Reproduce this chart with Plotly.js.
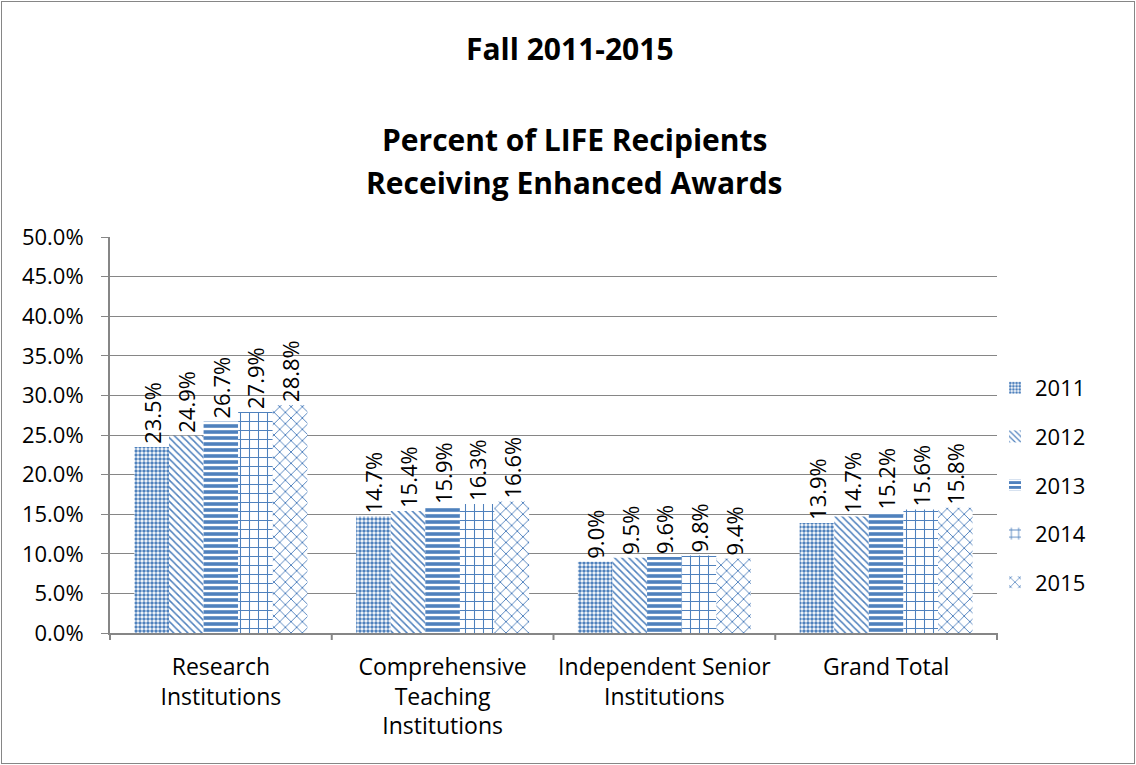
<!DOCTYPE html>
<html>
<head>
<meta charset="utf-8">
<script src="https://cdn.plot.ly/plotly-3.0.1.min.js"></script>
<style>
html,body{margin:0;padding:0;background:#fff;}
#wrap{position:absolute;left:0;top:0;width:1136px;height:765px;}
#frame{position:absolute;left:1px;top:1px;width:1132px;height:761px;border:1px solid #868686;pointer-events:none;}
#chart{position:absolute;left:0;top:0;width:1136px;height:765px;}
</style>
</head>
<body>
<div id="wrap"><div id="chart"></div><div id="frame"></div></div>
<script>
const categories = ["Research<br>Institutions", "Comprehensive<br>Teaching<br>Institutions", "Independent Senior<br>Institutions", "Grand Total"];
const years = ["2011", "2012", "2013", "2014", "2015"];
const v2011 = [23.5, 14.7, 9.0, 13.9];
const v2012 = [24.9, 15.4, 9.5, 14.7];
const v2013 = [26.7, 15.9, 9.6, 15.2];
const v2014 = [27.9, 16.3, 9.8, 15.6];
const v2015 = [28.8, 16.6, 9.4, 15.8];
const series = [v2011, v2012, v2013, v2014, v2015];
const patterns = [
  {shape: ".", size: 4, solidity: 0.6},
  {shape: "\\", size: 5, solidity: 0.3},
  {shape: "-", size: 6, solidity: 0.6},
  {shape: "+", size: 9, solidity: 0.22},
  {shape: "x", size: 8, solidity: 0.22}
];
const blue = "#4F81BD";
const FONT = "'Open Sans', sans-serif";
const FS = 23;

const traces = series.map((vals, i) => ({
  type: "bar",
  name: years[i],
  x: categories,
  y: vals,
  text: vals.map(v => v.toFixed(1) + "%"),
  textposition: "outside",
  textangle: -90,
  constraintext: "none",
  cliponaxis: false,
  textfont: {family: FONT, size: 22, color: "#000"},
  hoverinfo: "skip",
  legendgroup: "g" + i,
  marker: {
    color: blue,
    line: {width: 0},
    pattern: Object.assign({fillmode: "replace", fgcolor: blue, bgcolor: "#ffffff"}, patterns[i])
  }
}));

const plotTop = 237, plotBottom = 633, plotH = plotBottom - plotTop;
const plotLeft = 110, plotRight = 997, plotW = plotRight - plotLeft;
function py(p){ return (plotBottom - p) / plotH; }
function px(p){ return (p - plotLeft) / plotW; }

const layout = {
  width: 1136, height: 765,
  paper_bgcolor: "#ffffff", plot_bgcolor: "#ffffff",
  margin: {l: plotLeft, r: 1136 - plotRight, t: plotTop, b: 765 - plotBottom, pad: 0},
  font: {family: FONT, size: FS, color: "#000"},
  barmode: "group",
  bargap: 0.22,
  bargroupgap: 0,
  showlegend: true,
  legend: {
    x: px(995), xanchor: "left", y: py(485), yanchor: "middle",
    font: {family: FONT, size: 22, color: "#000"},
    tracegroupgap: 17, traceorder: "grouped",
    itemwidth: 30, bgcolor: "rgba(0,0,0,0)"
  },
  xaxis: {
    type: "category",
    showgrid: false,
    showline: true, linecolor: "#868686", linewidth: 2,
    ticks: "", tickfont: {family: FONT, size: FS, color: "#000"},
    ticklabelstandoff: 12,
    fixedrange: true
  },
  yaxis: {
    range: [0, 50], dtick: 5, tick0: 0,
    tickformat: ".1f", ticksuffix: "%",
    showgrid: true, gridcolor: "#868686", gridwidth: 1,
    showline: true, linecolor: "#868686", linewidth: 2,
    ticks: "outside", ticklen: 7, tickcolor: "#868686", tickwidth: 1,
    tickfont: {family: FONT, size: 22, color: "#000"},
    ticklabelstandoff: 13,
    zeroline: false, fixedrange: true
  },
  shapes: [
    ...[0,1,2,3,4].map(k => ({
      type: "line", xref: "paper", yref: "paper",
      x0: k / 4, x1: k / 4, y0: 0, y1: -7 / plotH,
      line: {color: "#868686", width: 2}
    }))
  ],
  annotations: [
    {text: "<b>Fall 2011-2015</b>", xref: "paper", yref: "paper", x: px(570), y: py(48), xanchor: "center", yanchor: "middle", showarrow: false, font: {family: FONT, size: 30, color: "#000"}},
    {text: "<b>Percent of LIFE Recipients</b>", xref: "paper", yref: "paper", x: px(574), y: py(140), xanchor: "center", yanchor: "middle", showarrow: false, font: {family: FONT, size: 30, color: "#000"}},
    {text: "<b>Receiving Enhanced Awards</b>", xref: "paper", yref: "paper", x: px(574), y: py(183), xanchor: "center", yanchor: "middle", showarrow: false, font: {family: FONT, size: 30, color: "#000"}}
  ]
};

Plotly.newPlot("chart", traces, layout, {displayModeBar: false, staticPlot: true});
</script>
</body>
</html>
